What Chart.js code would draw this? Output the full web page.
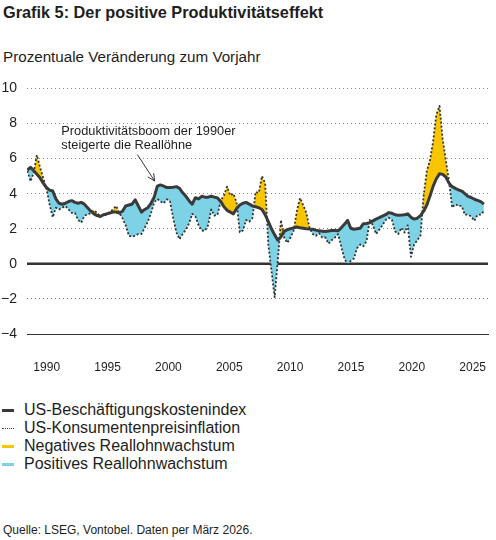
<!DOCTYPE html>
<html>
<head>
<meta charset="utf-8">
<script src="https://cdn.jsdelivr.net/npm/chart.js@4.4.1/dist/chart.umd.min.js"></script>
<style>
  html { overflow: hidden; }
  body { margin: 0; width: 496px; height: 540px; background: #fff; position: relative; overflow: hidden;
         font-family: "Liberation Sans", Arial, sans-serif; color: #1e1e1e; }
  #title { position: absolute; left: 3px; top: 2px; font-size: 16.3px; font-weight: bold; line-height: 20px; }
  #sub { position: absolute; left: 3px; top: 48px; font-size: 15.2px; line-height: 18px; }
  #chart { position: absolute; left: 0; top: 70px; }
  #legend { position: absolute; left: 0; top: 401px; font-size: 16px; line-height: 18px; }
  .item { display: flex; align-items: center; height: 18px; }
  .mark { width: 12px; height: 3px; margin: 0 10px 0 2px; }
  .dots { height: 0; border-top: 1px dotted #444; }
  #src { position: absolute; left: 3px; top: 523px; font-size: 12px; line-height: 15px; }
</style>
</head>
<body>
<div id="title">Grafik 5: Der positive Produktivitätseffekt</div>
<div id="sub">Prozentuale Veränderung zum Vorjahr</div>
<canvas id="chart" width="496" height="304" style="width:496px;height:304px"></canvas>
<div id="legend">
  <div class="item"><span class="mark" style="background:#3a3a3a"></span>US-Beschäftigungskostenindex</div>
  <div class="item"><span class="mark dots"></span>US-Konsumentenpreisinflation</div>
  <div class="item"><span class="mark" style="background:#f8c600"></span>Negatives Reallohnwachstum</div>
  <div class="item"><span class="mark" style="background:#7ed2e6"></span>Positives Reallohnwachstum</div>
</div>
<div id="src">Quelle: LSEG, Vontobel. Daten per März 2026.</div>

<script>
// quarterly, Q1 1990 .. Q1 2026, % y/y
var eci = [
  5.35, 5.5, 5.3, 5.1,   4.9, 4.6, 4.35, 4.2,   4.15, 3.7, 3.45, 3.4,   3.45, 3.55, 3.6, 3.5,
  3.45, 3.5, 3.4, 3.2,   3.0, 2.85, 2.75, 2.7,  2.8, 2.85, 2.9, 2.95,   2.95, 2.9, 3.0, 3.3,
  3.35, 3.4, 3.65, 3.3,  2.95, 3.1, 3.2, 3.45,  3.8, 4.43, 4.5, 4.43,   4.35, 4.35, 4.37, 4.4,
  4.3, 4.05, 3.85, 3.6,  3.4, 3.77, 3.7, 3.85,  3.8, 3.8, 3.85, 3.8,    3.75, 3.55, 3.25, 3.05,
  2.95, 2.85, 3.15, 3.35, 3.45, 3.5, 3.4, 3.3,  3.25, 3.2, 3.1, 2.8,    2.4, 2.0, 1.65, 1.35,
  1.55, 1.85, 1.95, 2.0, 2.05, 2.1, 2.05, 2.03, 2.0, 1.98, 1.97, 1.92,  1.88, 1.86, 1.84, 1.87,
  1.9, 1.9, 1.88, 2.05,  2.25, 2.48, 2.03, 1.97, 2.0, 2.03, 2.29, 2.3,  2.35, 2.45, 2.55, 2.63,
  2.72, 2.8, 2.92, 2.88, 2.8, 2.77, 2.78, 2.8,  2.85, 2.65, 2.55, 2.6,  2.75, 3.0, 3.35, 3.86,
  4.43, 4.85, 5.13, 5.1, 4.95, 4.6, 4.4, 4.3,   4.22, 4.15, 4.0, 3.85,  3.78, 3.68, 3.62, 3.55,
  3.4
];
var cpi = [
  5.3, 4.7, 5.2, 6.2,    5.5, 4.9, 4.3, 3.4,    2.65, 3.2, 3.1, 3.2,    3.3, 3.1, 2.9, 2.9,
  2.5, 2.35, 2.75, 2.8,  2.9, 3.05, 2.9, 2.7,   2.75, 2.8, 2.95, 3.1,   3.3, 2.9, 2.6, 2.2,
  1.6, 1.55, 1.6, 1.7,   1.7, 2.05, 2.4, 2.9,   3.5, 3.7, 3.55, 3.45,   3.68, 3.55, 2.6, 1.8,
  1.4, 1.7, 1.95, 2.3,   2.85, 2.7, 2.2, 1.9,   1.88, 2.2, 3.1, 2.75,   2.8, 3.6, 3.9, 4.4,
  3.9, 4.0, 3.5, 1.8,    1.9, 2.5, 2.4, 2.6,    4.1, 4.05, 5.0, 4.6,    1.1, -0.4, -1.9, 0.2,
  2.5, 1.5, 1.2, 1.5,    1.9, 3.0, 3.75, 3.35,  2.9, 2.05, 1.7, 1.6,    1.75, 1.5, 1.5, 1.15,
  1.35, 1.5, 1.69, 1.0,  0.3, -0.02, 0.17, 0.3, 0.9, 1.1, 1.0, 1.3,     2.5, 2.2, 1.7, 1.95,
  2.2, 2.5, 2.63, 2.5,   1.85, 1.7, 2.06, 1.78, 2.2, 0.4, 1.1, 1.35,    1.6, 3.9, 5.3, 5.9,
  7.0, 8.5, 9.0, 7.1,    5.9, 4.7, 3.2, 3.4,    3.3, 3.3, 2.8, 2.8,     2.7, 2.45, 2.8, 2.8,
  3.0
];
var yearTicks = [1990, 1995, 2000, 2005, 2010, 2015, 2020, 2025];
var yTicks = [-4, -2, 0, 2, 4, 6, 8, 10];

// where the first quarter sits on the year axis, and one quarter's width on it
var firstX = 1988.41;
var quarterStep = 0.2605;

var ECI_COLOR = '#3a3a3a';
var YELLOW = '#f8c600';
var BLUE = '#7ed2e6';
var FONT = '"Liberation Sans", Arial, sans-serif';

function points(values) {
  return values.map(function (v, i) { return { x: firstX + i * quarterStep, y: v }; });
}

// thick zero line, under the fills
var zeroLine = {
  id: 'zeroLine',
  beforeDatasetsDraw: function (chart) {
    var ctx = chart.ctx, a = chart.chartArea;
    var y = chart.scales.y.getPixelForValue(0);
    ctx.save();
    ctx.strokeStyle = '#333';
    ctx.lineWidth = 2.5;
    ctx.beginPath();
    ctx.moveTo(a.left, y);
    ctx.lineTo(a.right, y);
    ctx.stroke();
    ctx.restore();
  }
};

// text + arrow about the 1990s boom
var note = {
  id: 'note',
  afterDatasetsDraw: function (chart) {
    var ctx = chart.ctx, sx = chart.scales.x, sy = chart.scales.y;
    ctx.save();
    ctx.fillStyle = '#1e1e1e';
    ctx.font = '12.8px ' + FONT;
    ctx.textBaseline = 'middle';
    var tx = sx.getPixelForValue(1991.2), ty = sy.getPixelForValue(7.56);
    ctx.fillText('Produktivitätsboom der 1990er', tx, ty);
    ctx.fillText('steigerte die Reallöhne', tx, ty + 14);

    var x1 = sx.getPixelForValue(1997.45), y1 = sy.getPixelForValue(6.23);
    var x2 = sx.getPixelForValue(1998.87), y2 = sy.getPixelForValue(4.72);
    var ang = Math.atan2(y2 - y1, x2 - x1);
    ctx.strokeStyle = '#333';
    ctx.lineWidth = 1;
    ctx.beginPath();
    ctx.moveTo(x1, y1);
    ctx.lineTo(x2, y2);
    ctx.moveTo(x2 - 8 * Math.cos(ang - 0.45), y2 - 8 * Math.sin(ang - 0.45));
    ctx.lineTo(x2, y2);
    ctx.lineTo(x2 - 8 * Math.cos(ang + 0.45), y2 - 8 * Math.sin(ang + 0.45));
    ctx.stroke();
    ctx.restore();
  }
};

new Chart(document.getElementById('chart'), {
  type: 'line',
  data: {
    datasets: [{
      label: 'US-Beschäftigungskostenindex',
      data: points(eci),
      borderColor: ECI_COLOR,
      borderWidth: 3,
      borderJoinStyle: 'round',
      pointRadius: 0,
      tension: 0,
      fill: false
    }, {
      label: 'US-Konsumentenpreisinflation',
      data: points(cpi),
      borderColor: '#333',
      borderWidth: 1.8,
      borderDash: [2, 2],
      borderJoinStyle: 'round',
      pointRadius: 0,
      tension: 0,
      fill: { target: 0, above: YELLOW, below: BLUE }
    }]
  },
  options: {
    responsive: false,
    animation: false,
    layout: { autoPadding: false, padding: { left: 1, right: 8, top: 17, bottom: 0 } },
    plugins: {
      legend: { display: false },
      tooltip: { enabled: false }
    },
    scales: {
      x: {
        type: 'linear',
        min: 1988.38,
        max: 2026.26,
        afterBuildTicks: function (s) { s.ticks = yearTicks.map(function (v) { return { value: v }; }); },
        afterFit: function (s) { s.height = 40; s.paddingLeft = 0; s.paddingRight = 0; },
        grid: { display: false, drawTicks: false },
        border: { display: true, color: '#333', width: 1 },
        ticks: {
          padding: 26,
          color: '#1e1e1e',
          font: { size: 12, family: FONT },
          maxRotation: 0,
          callback: function (v) { return String(v); }
        }
      },
      y: {
        min: -4,
        max: 10,
        afterBuildTicks: function (s) { s.ticks = yTicks.map(function (v) { return { value: v }; }); },
        afterFit: function (s) { s.width = 26; },
        grid: {
          drawTicks: false,
          lineWidth: 1,
          color: function (c) { return (c.tick && (c.tick.value === -4 || c.tick.value === 0)) ? 'rgba(0,0,0,0)' : '#8a8a8a'; }
        },
        border: { display: false, dash: [1, 3] },
        ticks: {
          padding: 10,
          color: '#1e1e1e',
          font: { size: 14, family: FONT },
          callback: function (v) { return v < 0 ? '\u2212' + Math.abs(v) : String(v); }
        }
      }
    }
  },
  plugins: [zeroLine, note]
});
</script>
</body>
</html>
